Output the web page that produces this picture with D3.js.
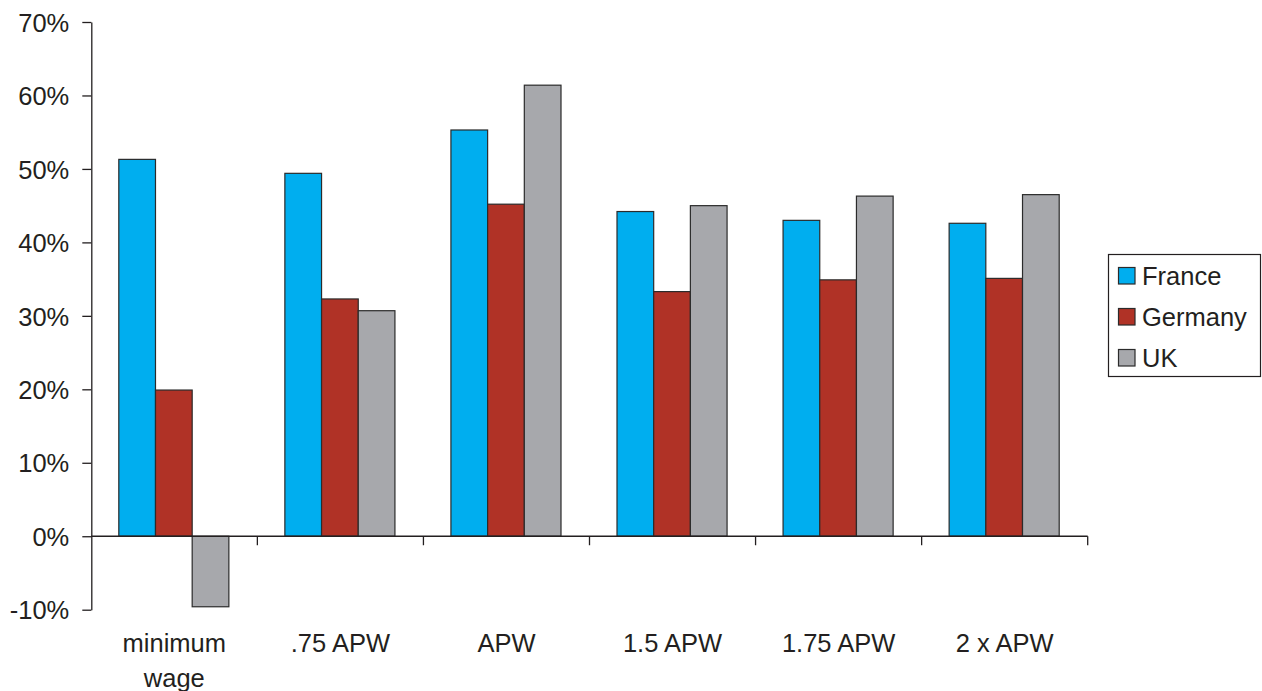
<!DOCTYPE html>
<html>
<head>
<meta charset="utf-8">
<script src="https://cdn.jsdelivr.net/npm/d3@7"></script>
<style>
  html, body { margin: 0; padding: 0; background: #fff; }
  svg { display: block; }
  text { font-family: "Liberation Sans", Arial, Helvetica, sans-serif; fill: #231f20; }
</style>
</head>
<body>
<svg id="chart" width="1262" height="691"></svg>
<script>
const categories = ["minimum wage", ".75 APW", "APW", "1.5 APW", "1.75 APW", "2 x APW"];
const categoryLines = [["minimum", "wage"], [".75 APW"], ["APW"], ["1.5 APW"], ["1.75 APW"], ["2 x APW"]];
const seriesNames = ["France", "Germany", "UK"];
const france  = [51.3, 49.4, 55.3, 44.2, 43.0, 42.6];
const germany = [19.9, 32.3, 45.2, 33.3, 34.9, 35.1];
const uk      = [-9.6, 30.7, 61.4, 45.0, 46.3, 46.5];
const yTicks  = [-10, 0, 10, 20, 30, 40, 50, 60, 70];
const colors  = ["#00aeef", "#b03226", "#a7a8ac"];

const seriesValues = [france, germany, uk];
const svg = d3.select("#chart");
const fs = 25.5;

const x = d3.scaleBand().domain(categories).range([91.3, 1087.7]).padding(0);
const bw = x.bandwidth();
const x1 = d3.scaleBand().domain(seriesNames).range([27.5, bw - 28.5]).padding(0);
const y = d3.scaleLinear().domain([-10, 70]).range([609.7, 22]);

// bars
const groups = svg.append("g").selectAll("g")
  .data(categories).join("g")
  .attr("transform", c => `translate(${x(c)},0)`);

groups.selectAll("rect")
  .data((c, i) => seriesNames.map((s, j) => ({ s, j, v: seriesValues[j][i] })))
  .join("rect")
  .attr("x", d => x1(d.s))
  .attr("width", x1.bandwidth())
  .attr("y", d => y(Math.max(0, d.v)))
  .attr("height", d => Math.abs(y(d.v) - y(0)))
  .attr("fill", d => colors[d.j])
  .attr("stroke", "#2b2b2b")
  .attr("stroke-width", 1.2);

// y axis
const yAxis = svg.append("g")
  .attr("transform", `translate(${x.range()[0]},0)`)
  .call(d3.axisLeft(y).tickValues(yTicks).tickSize(9).tickSizeOuter(0).tickPadding(13)
        .tickFormat(d => d + "%"));
yAxis.select(".domain").attr("stroke", "#231f20").attr("stroke-width", 1.3);
yAxis.selectAll(".tick line").attr("stroke", "#231f20").attr("stroke-width", 1.3);
yAxis.selectAll(".tick text")
  .style("font-size", fs + "px")
  .style("font-family", "'Liberation Sans', Arial, sans-serif")
  .attr("fill", "#231f20")
  .attr("dy", "0.36em");

// x axis line at zero
const xg = svg.append("g");
xg.append("line")
  .attr("x1", x.range()[0]).attr("x2", x.range()[1])
  .attr("y1", y(0)).attr("y2", y(0))
  .attr("stroke", "#231f20").attr("stroke-width", 1.3);
xg.selectAll("line.tick")
  .data(categories).join("line")
  .attr("class", "tick")
  .attr("x1", c => x(c) + bw).attr("x2", c => x(c) + bw)
  .attr("y1", y(0)).attr("y2", y(0) + 9)
  .attr("stroke", "#231f20").attr("stroke-width", 1.3);

// x labels
const lbl = svg.append("g").selectAll("text")
  .data(categories).join("text")
  .attr("x", c => x(c) + bw / 2)
  .attr("y", 652)
  .attr("text-anchor", "middle")
  .style("font-size", fs + "px");
lbl.each(function (c, i) {
  const t = d3.select(this);
  categoryLines[i].forEach((line, k) => {
    t.append("tspan").attr("x", x(c) + bw / 2).attr("dy", k === 0 ? 0 : 35).text(line);
  });
});

// legend
const lg = svg.append("g");
lg.append("rect")
  .attr("x", 1108.5).attr("y", 254.5).attr("width", 152).attr("height", 122)
  .attr("fill", "#fff").attr("stroke", "#231f20").attr("stroke-width", 1.2);
const items = lg.selectAll("g.item").data(seriesNames).join("g")
  .attr("class", "item")
  .attr("transform", (d, i) => `translate(0,${i * 41})`);
items.append("rect")
  .attr("x", 1118.5).attr("y", 267.5).attr("width", 16.5).attr("height", 16.5)
  .attr("fill", (d, i) => colors[i]).attr("stroke", "#2b2b2b").attr("stroke-width", 1.2);
items.append("text")
  .attr("x", 1142).attr("y", 284.5)
  .style("font-size", fs + "px")
  .text(d => d);
</script>
</body>
</html>
